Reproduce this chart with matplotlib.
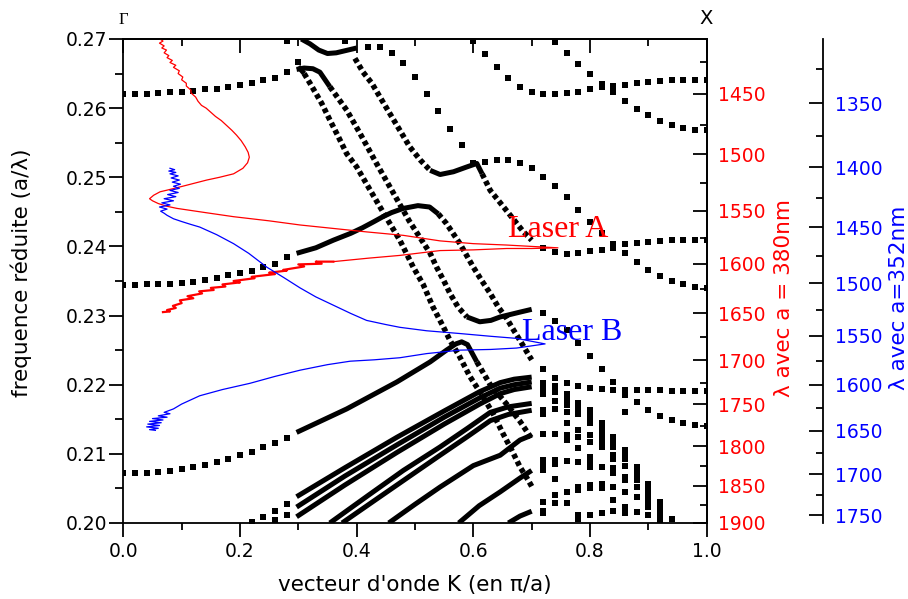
import numpy as np
import matplotlib
matplotlib.use("Agg")
import matplotlib.pyplot as plt
from matplotlib.ticker import FixedLocator, MultipleLocator

# ---------------- sparse band points (k, f) ----------------
k_left = [0.00, 0.02, 0.04, 0.06, 0.08, 0.10, 0.12, 0.14, 0.16, 0.18, 0.20, 0.22, 0.24, 0.26, 0.28]
S1_f = [0.2620, 0.2620, 0.2621, 0.2622, 0.2623, 0.2623, 0.2625, 0.2627, 0.2628, 0.2630, 0.2633, 0.2637, 0.2640, 0.2644, 0.2652]
S2_f = [0.2344, 0.2344, 0.2345, 0.2345, 0.2346, 0.2347, 0.2349, 0.2352, 0.2355, 0.2358, 0.2362, 0.2365, 0.2370, 0.2375, 0.2384]
S3_f = [0.2072, 0.2072, 0.2073, 0.2074, 0.2075, 0.2078, 0.2081, 0.2084, 0.2088, 0.2093, 0.2098, 0.2103, 0.2110, 0.2116, 0.2123]
SB1_k = [0.22, 0.24, 0.26, 0.28]
SB1_f = [0.2001, 0.2009, 0.2018, 0.2028]
SB2_k = [0.26, 0.28]
SB2_f = [0.2004, 0.2012]
single_k = [0.28, 0.30, 0.38, 0.60]
single_f = [0.2697, 0.2667, 0.2697, 0.2697]

RA_k = [0.42, 0.44, 0.46, 0.48, 0.50, 0.52, 0.54, 0.56, 0.58, 0.60, 0.62, 0.64, 0.66, 0.68, 0.70,
        0.72, 0.74, 0.76, 0.78, 0.80, 0.82, 0.84, 0.86, 0.88, 0.90, 0.92, 0.94, 0.96, 0.98, 1.00]
RA_f = [0.2689, 0.2688, 0.2680, 0.2665, 0.2645, 0.2621, 0.2596, 0.2570, 0.2546, 0.2521, 0.2522, 0.2525,
        0.2525, 0.2521, 0.2513, 0.2501, 0.2487, 0.2471, 0.2453, 0.2436, 0.2419, 0.2404, 0.2390, 0.2378,
        0.2366, 0.2357, 0.2350, 0.2345, 0.2341, 0.2340]
RB_k = [0.72, 0.74, 0.76, 0.78, 0.80, 0.82, 0.84, 0.86, 0.88, 0.90, 0.92, 0.94, 0.96, 0.98, 1.00]
RB_f = [0.2398, 0.2392, 0.2389, 0.2391, 0.2393, 0.2395, 0.2398, 0.2404, 0.2405, 0.2406, 0.2408, 0.2409,
        0.2410, 0.2410, 0.2410]
RT1_k = [0.74, 0.76, 0.78, 0.80, 0.82, 0.84, 0.86, 0.88, 0.90, 0.92, 0.94, 0.96, 0.98, 1.00]
RT1_f = [0.2696, 0.2680, 0.2664, 0.2650, 0.2635, 0.2623, 0.2610, 0.2599, 0.2590, 0.2582, 0.2576, 0.2571,
         0.2569, 0.2569]
RT2_k = [0.62, 0.64, 0.66, 0.68, 0.70, 0.72, 0.74, 0.76, 0.78, 0.80, 0.82, 0.84, 0.86, 0.88, 0.90,
         0.92, 0.94, 0.96, 0.98, 1.00]
RT2_f = [0.2679, 0.2660, 0.2643, 0.2631, 0.2623, 0.2620, 0.2620, 0.2622, 0.2624, 0.2627, 0.2630, 0.2632,
         0.2634, 0.2637, 0.2638, 0.2639, 0.2640, 0.2641, 0.2641, 0.2641]
RC_k = [0.72, 0.74, 0.76, 0.78, 0.80, 0.82, 0.84]
RC_f = [0.2303, 0.2292, 0.2279, 0.2260, 0.2241, 0.2223, 0.2204]
U1_k = [0.74, 0.76, 0.78, 0.80, 0.82, 0.84, 0.86, 0.88, 0.90, 0.92, 0.94, 0.96, 0.98, 1.00]
U1_f = [0.2209, 0.2202, 0.2198, 0.2195, 0.2194, 0.2193, 0.2192, 0.2192, 0.2192, 0.2192, 0.2191, 0.2191,
        0.2191, 0.2191]
U2_k = [0.86, 0.88, 0.90, 0.92, 0.94, 0.96, 0.98, 1.00]
U2_f = [0.2185, 0.2175, 0.2163, 0.2155, 0.2149, 0.2145, 0.2141, 0.2140]

# columns of the dense cloud of points at the lower right
cloud = {
    0.72: [0.2222, 0.2202, 0.2194, 0.2187, 0.2164, 0.2158, 0.2128, 0.2091, 0.2083, 0.2077, 0.2030, 0.2018, 0.2014],
    0.74: [0.2198, 0.2190, 0.2177, 0.2165, 0.2128, 0.2091, 0.2086, 0.2064, 0.2040, 0.2029],
    0.76: [0.2187, 0.2180, 0.2170, 0.2161, 0.2145, 0.2127, 0.2120, 0.2089, 0.2045, 0.2029],
    0.78: [0.2173, 0.2165, 0.2157, 0.2134, 0.2124, 0.2108, 0.2088, 0.2052, 0.2047, 0.2011, 0.2006],
    0.80: [0.2163, 0.2157, 0.2151, 0.2145, 0.2127, 0.2117, 0.2096, 0.2088, 0.2081, 0.2055, 0.2050, 0.2011],
    0.82: [0.2144, 0.2138, 0.2132, 0.2126, 0.2117, 0.2110, 0.2081, 0.2057, 0.2051, 0.2015],
    0.84: [0.2124, 0.2117, 0.2110, 0.2098, 0.2092, 0.2079, 0.2072, 0.2052, 0.2033, 0.2018],
    0.86: [0.2161, 0.2105, 0.2099, 0.2093, 0.2083, 0.2067, 0.2062, 0.2045, 0.2023, 0.2014],
    0.88: [0.2081, 0.2075, 0.2069, 0.2062, 0.2052, 0.2038, 0.2016],
    0.90: [0.2057, 0.2050, 0.2043, 0.2036, 0.2028, 0.2023, 0.2011],
    0.92: [0.2030, 0.2024, 0.2018, 0.2010, 0.2004],
    0.94: [0.2006],
}

# ---------------- dense bands (k, f) ----------------
T1_k = [0.305, 0.32, 0.335, 0.35, 0.365, 0.38, 0.40]
T1_f = [0.2700, 0.2693, 0.2684, 0.2679, 0.2680, 0.2683, 0.2687]
Ci_k = [0.300, 0.31, 0.32, 0.34, 0.354, 0.369, 0.383, 0.40, 0.42, 0.447, 0.474, 0.497, 0.514, 0.531, 0.549,
        0.56, 0.575, 0.594, 0.617, 0.634, 0.651, 0.666, 0.68, 0.694, 0.70]
Ci_f = [0.2660, 0.2650, 0.2636, 0.2607, 0.2583, 0.2558, 0.2534, 0.2515, 0.2486, 0.2447, 0.2409, 0.2370,
        0.2345, 0.2312, 0.2283, 0.2264, 0.2243, 0.2212, 0.2182, 0.2158, 0.2129, 0.2105, 0.2081, 0.2062, 0.2053]
Cii_k = [0.297, 0.31, 0.325, 0.337, 0.354, 0.383, 0.406, 0.434, 0.457, 0.49, 0.526, 0.537, 0.549, 0.56,
         0.574, 0.589, 0.611, 0.63, 0.646, 0.68, 0.70]
Cii_f = [0.2656, 0.2658, 0.2657, 0.2652, 0.2631, 0.2597, 0.2563, 0.2520, 0.2486, 0.2437, 0.2390, 0.2370,
         0.2351, 0.2332, 0.2312, 0.2298, 0.2291, 0.2293, 0.2298, 0.2305, 0.2309]
CL_k = [0.297, 0.33, 0.36, 0.39, 0.41, 0.43, 0.445, 0.46, 0.48, 0.505, 0.525, 0.54, 0.554, 0.577, 0.60,
        0.614, 0.629, 0.643, 0.657, 0.669, 0.68, 0.697, 0.70]
CL_f = [0.2390, 0.2398, 0.2409, 0.2419, 0.2427, 0.2436, 0.2443, 0.2449, 0.2455, 0.2459, 0.2457, 0.2447,
        0.2433, 0.2404, 0.2370, 0.2351, 0.2332, 0.2312, 0.2296, 0.2279, 0.2264, 0.2240, 0.2236]
C4_k = [0.397, 0.411, 0.426, 0.44, 0.457, 0.474, 0.491, 0.509, 0.526, 0.543, 0.566, 0.589, 0.606, 0.615,
        0.629, 0.65, 0.67, 0.685, 0.70]
C4_f = [0.2672, 0.2652, 0.2636, 0.2616, 0.2592, 0.2568, 0.2544, 0.2525, 0.2510, 0.2504, 0.2508, 0.2515,
        0.2520, 0.2505, 0.2481, 0.2459, 0.2438, 0.2422, 0.2409]
B1_k = [0.297, 0.383, 0.469, 0.526, 0.554, 0.57, 0.58, 0.59, 0.606, 0.629, 0.657, 0.68, 0.70]
B1_f = [0.2131, 0.2165, 0.2204, 0.2233, 0.2250, 0.2259, 0.2262, 0.2258, 0.2233, 0.2200, 0.2172, 0.2147, 0.2122]
Btr_k = [0.297, 0.38, 0.469, 0.55, 0.611, 0.646, 0.67, 0.70]
B2_f = [0.2038, 0.2080, 0.2124, 0.2162, 0.2190, 0.2203, 0.2208, 0.2211]
B3_f = [0.2023, 0.2068, 0.2113, 0.2153, 0.2181, 0.2195, 0.2200, 0.2204]
B4_f = [0.2009, 0.2055, 0.2102, 0.2143, 0.2172, 0.2187, 0.2193, 0.2197]
B5_k = [0.354, 0.42, 0.48, 0.543, 0.59, 0.629, 0.66, 0.70]
B5_f = [0.2000, 0.2040, 0.2076, 0.2110, 0.2137, 0.2160, 0.2168, 0.2173]
B6_k = [0.375, 0.44, 0.50, 0.543, 0.59, 0.629, 0.66, 0.70]
B6_f = [0.2000, 0.2038, 0.2073, 0.2098, 0.2125, 0.2148, 0.2157, 0.2163]
B7_k = [0.455, 0.50, 0.543, 0.60, 0.646, 0.68, 0.70]
B7_f = [0.2000, 0.2027, 0.2052, 0.2083, 0.2098, 0.2120, 0.2127]
B8_k = [0.575, 0.61, 0.646, 0.68, 0.70]
B8_f = [0.2000, 0.2025, 0.2045, 0.2065, 0.2076]
B9_k = [0.66, 0.68, 0.70]
B9_f = [0.2000, 0.2010, 0.2017]

# ---------------- laser spectra (intensity on k axis, f) ----------------
laserA_x = [0.063, 0.068, 0.062, 0.070, 0.066, 0.074, 0.070, 0.078, 0.075, 0.084, 0.080, 0.090, 0.086, 0.096,
            0.094, 0.102, 0.100, 0.108, 0.108, 0.116, 0.116, 0.124, 0.128, 0.134, 0.142, 0.150, 0.158, 0.168,
            0.177, 0.186, 0.194, 0.202, 0.209, 0.214, 0.216, 0.213, 0.205, 0.189, 0.165, 0.143, 0.120, 0.097,
            0.078, 0.063, 0.052, 0.045, 0.050, 0.060, 0.075, 0.092, 0.14, 0.189, 0.25, 0.303, 0.36, 0.417,
            0.48, 0.543, 0.60, 0.657, 0.70, 0.745, 0.70, 0.657, 0.60, 0.543, 0.474, 0.42, 0.36]
laserA_f = [0.2700, 0.2697, 0.2694, 0.2690, 0.2687, 0.2684, 0.2680, 0.2676, 0.2673, 0.2669, 0.2666, 0.2662,
            0.2659, 0.2654, 0.2650, 0.2645, 0.2641, 0.2636, 0.2632, 0.2626, 0.2622, 0.2616, 0.2610, 0.2604,
            0.2600, 0.2594, 0.2588, 0.2582, 0.2575, 0.2568, 0.2561, 0.2553, 0.2544, 0.2536, 0.2529, 0.2521,
            0.2513, 0.2505, 0.2500, 0.2496, 0.2491, 0.2486, 0.2482, 0.2479, 0.2474, 0.2469, 0.2466, 0.2462,
            0.2458, 0.2455, 0.2449, 0.2443, 0.2437, 0.2431, 0.2426, 0.2421, 0.2416, 0.2408, 0.2404, 0.2402,
            0.2400, 0.2398, 0.2397, 0.2397, 0.2395, 0.2394, 0.2387, 0.2383, 0.2378]
laserA_low_x = [0.36, 0.33, 0.34, 0.30, 0.31, 0.274, 0.28, 0.25, 0.26, 0.22, 0.225, 0.189, 0.20, 0.17, 0.175,
                0.15, 0.155, 0.13, 0.135, 0.11, 0.12, 0.097, 0.10, 0.085, 0.09, 0.075, 0.08, 0.068]
laserA_low_f = [0.2378, 0.2378, 0.2375, 0.2374, 0.2371, 0.2366, 0.2365, 0.2362, 0.2360, 0.2356, 0.2354, 0.2350,
                0.2348, 0.2345, 0.2342, 0.2340, 0.2337, 0.2335, 0.2332, 0.2328, 0.2325, 0.2322, 0.2318, 0.2314,
                0.2311, 0.2308, 0.2306, 0.2305]
laserB_x = [0.080, 0.088, 0.078, 0.090, 0.080, 0.094, 0.082, 0.096, 0.084, 0.098, 0.086, 0.096, 0.080, 0.094,
            0.076, 0.090, 0.070, 0.086, 0.066, 0.080, 0.062, 0.075, 0.064, 0.070, 0.075, 0.086, 0.10, 0.115,
            0.131, 0.16, 0.189, 0.215, 0.246, 0.275, 0.303, 0.33, 0.36, 0.39, 0.417, 0.45, 0.474, 0.52, 0.577,
            0.63, 0.674, 0.723, 0.674, 0.63, 0.577, 0.52, 0.474, 0.43, 0.389, 0.35, 0.303, 0.26, 0.217, 0.17,
            0.131, 0.10, 0.086, 0.070, 0.080, 0.060, 0.075, 0.050, 0.068, 0.045, 0.065, 0.042, 0.062, 0.040,
            0.060, 0.045, 0.055]
laserB_f = [0.2513, 0.2511, 0.2509, 0.2507, 0.2505, 0.2502, 0.2499, 0.2496, 0.2493, 0.2490, 0.2487, 0.2484,
            0.2481, 0.2478, 0.2475, 0.2472, 0.2469, 0.2466, 0.2463, 0.2460, 0.2457, 0.2454, 0.2451, 0.2448,
            0.2445, 0.2440, 0.2436, 0.2432, 0.2428, 0.2417, 0.2404, 0.2390, 0.2370, 0.2355, 0.2340, 0.2327,
            0.2315, 0.2303, 0.2293, 0.2287, 0.2283, 0.2278, 0.2274, 0.2270, 0.2267, 0.2259, 0.2253, 0.2251,
            0.2250, 0.2245, 0.2239, 0.2236, 0.2234, 0.2229, 0.2221, 0.2212, 0.2202, 0.2193, 0.2184, 0.2172,
            0.2165, 0.2160, 0.2158, 0.2155, 0.2153, 0.2151, 0.2149, 0.2147, 0.2145, 0.2143, 0.2141, 0.2139,
            0.2137, 0.2135, 0.2134]

x_ticks = [0.0, 0.2, 0.4, 0.6, 0.8, 1.0]
y_ticks = [0.20, 0.21, 0.22, 0.23, 0.24, 0.25, 0.26, 0.27]
red_ticks = [1450, 1500, 1550, 1600, 1650, 1700, 1750, 1800, 1850, 1900]
blue_ticks = [1350, 1400, 1450, 1500, 1550, 1600, 1650, 1700, 1750]

# ---------------- figure ----------------
fig = plt.figure(figsize=(9.08, 5.99), dpi=100)
ax = fig.add_axes([0.1358, 0.1269, 0.6425, 0.808])
ax.set_xlim(0, 1)
ax.set_ylim(0.20, 0.27)

mk = dict(ls='none', marker='s', ms=4.3, mew=0, color='black')
for f in (S1_f, S2_f, S3_f):
    ax.plot(k_left, f, **mk)
for kk, ff in ((SB1_k, SB1_f), (SB2_k, SB2_f), (single_k, single_f), (RA_k, RA_f), (RB_k, RB_f),
               (RT1_k, RT1_f), (RT2_k, RT2_f), (RC_k, RC_f), (U1_k, U1_f), (U2_k, U2_f)):
    ax.plot(kk, ff, **mk)
for kc, fl in cloud.items():
    ax.plot([kc] * len(fl), fl, **mk)

solid = dict(color='black', lw=3.6, solid_capstyle='butt', solid_joinstyle='round')
dotted = dict(color='black', lw=4.0, ls=(0, (0.85, 0.6)), dash_capstyle='butt')


def seg(k, f, a, b, style):
    ax.plot(k[a:b], f[a:b], **style)


# flat (solid) and steep (chain of squares) portions of the dense bands
seg(T1_k, T1_f, 0, None, solid)
seg(Ci_k, Ci_f, 0, 2, solid)
seg(Ci_k, Ci_f, 1, None, dotted)
seg(Cii_k, Cii_f, 0, 5, solid)
seg(Cii_k, Cii_f, 4, 16, dotted)
seg(Cii_k, Cii_f, 15, None, solid)
seg(CL_k, CL_f, 0, 12, solid)
seg(CL_k, CL_f, 11, None, dotted)
seg(C4_k, C4_f, 0, 9, dotted)
seg(C4_k, C4_f, 8, 14, solid)
seg(C4_k, C4_f, 13, None, dotted)
seg(B1_k, B1_f, 0, 9, solid)
seg(B1_k, B1_f, 8, None, dotted)
for kk, ff in ((Btr_k, B2_f), (Btr_k, B3_f), (Btr_k, B4_f), (B5_k, B5_f), (B6_k, B6_f), (B7_k, B7_f),
               (B8_k, B8_f), (B9_k, B9_f)):
    seg(kk, ff, 0, None, solid)

ax.plot(laserA_x, laserA_f, color='red', lw=0.9)
ax.plot(laserA_low_x, laserA_low_f, color='red', lw=1.6)
ax.plot(laserB_x, laserB_f, color='blue', lw=0.9)

# ---------------- axes styling ----------------
TS = 13.5
for s in ax.spines.values():
    s.set_linewidth(1.3)
ax.set_xticks(x_ticks)
ax.xaxis.set_minor_locator(MultipleLocator(0.1))
ax.set_yticks(y_ticks)
ax.set_yticklabels([f"{v:.2f}" for v in y_ticks])
ax.set_xticklabels([f"{v:.1f}" for v in x_ticks])
ax.yaxis.set_minor_locator(MultipleLocator(0.005))
ax.tick_params(axis='x', which='both', direction='out', top=False, labelsize=TS, width=1.3, pad=3.5)
ax.tick_params(axis='x', which='major', length=10)
ax.tick_params(axis='x', which='minor', length=5)
ax.tick_params(axis='y', which='both', direction='out', right=False, labelsize=TS, width=1.3, pad=1.5)
ax.tick_params(axis='y', which='major', length=10)
ax.tick_params(axis='y', which='minor', length=6)

top = ax.secondary_xaxis('top')
top.set_xticks(x_ticks)
top.xaxis.set_minor_locator(MultipleLocator(0.1))
top.tick_params(axis='x', which='both', direction='in', labeltop=False, width=1.3)
top.tick_params(axis='x', which='major', length=10)
top.tick_params(axis='x', which='minor', length=5)
top.spines['top'].set_linewidth(1.3)


def make_inv(a):
    def inv(x):
        x = np.array(x, float)
        out = np.full_like(x, np.inf)
        nz = ~np.isclose(x, 0)
        out[nz] = a / x[nz]
        return out
    return inv


inv380 = make_inv(380.0)
inv352 = make_inv(352.0)

red = ax.secondary_yaxis('right', functions=(inv380, inv380))
red.set_yticks(red_ticks)
red.yaxis.set_minor_locator(FixedLocator(list(range(1425, 1901, 25))))
red.tick_params(axis='y', which='both', direction='in', width=1.3, colors='black', labelcolor='red',
                labelsize=TS, pad=8)
red.tick_params(axis='y', which='major', length=10)
red.tick_params(axis='y', which='minor', length=5)
red.spines['right'].set_linewidth(1.3)

blue = ax.secondary_yaxis(1.2, functions=(inv352, inv352))
blue.set_yticks(blue_ticks)
blue.yaxis.set_minor_locator(FixedLocator(list(range(1325, 1776, 25))))
blue.tick_params(axis='y', which='both', direction='in', width=1.3, colors='black', labelcolor='blue',
                 labelsize=TS, pad=8.5)
blue.tick_params(axis='y', which='major', length=10)
blue.tick_params(axis='y', which='minor', length=5)
blue.spines['right'].set_linewidth(1.3)

# ---------------- texts ----------------
LS = 15.5
fig.text(0.023, 0.544, 'frequence réduite (a/λ)', rotation=90, ha='center', va='center', fontsize=LS)
fig.text(0.457, 0.0234, "vecteur d'onde K (en π/a)", ha='center', va='center', fontsize=LS)
fig.text(0.8629, 0.5017, 'λ avec a = 380nm', rotation=90, ha='center', va='center', fontsize=LS, color='red')
fig.text(0.990, 0.5033, 'λ avec a=352nm', rotation=90, ha='center', va='center', fontsize=LS, color='blue')
fig.text(123 / 908, 1 - 24 / 599, 'Γ', ha='center', va='baseline', fontsize=12, family='Liberation Serif')
fig.text(706 / 908, 1 - 24 / 599, 'X', ha='center', va='baseline', fontsize=14)
fig.text(508 / 908, 1 - 237 / 599, 'Laser A', ha='left', va='baseline', fontsize=23,
         family='Liberation Serif', color='red')
fig.text(521.7 / 908, 1 - 340 / 599, 'Laser B', ha='left', va='baseline', fontsize=23,
         family='Liberation Serif', color='blue')

fig.savefig('out.png', dpi=100)
